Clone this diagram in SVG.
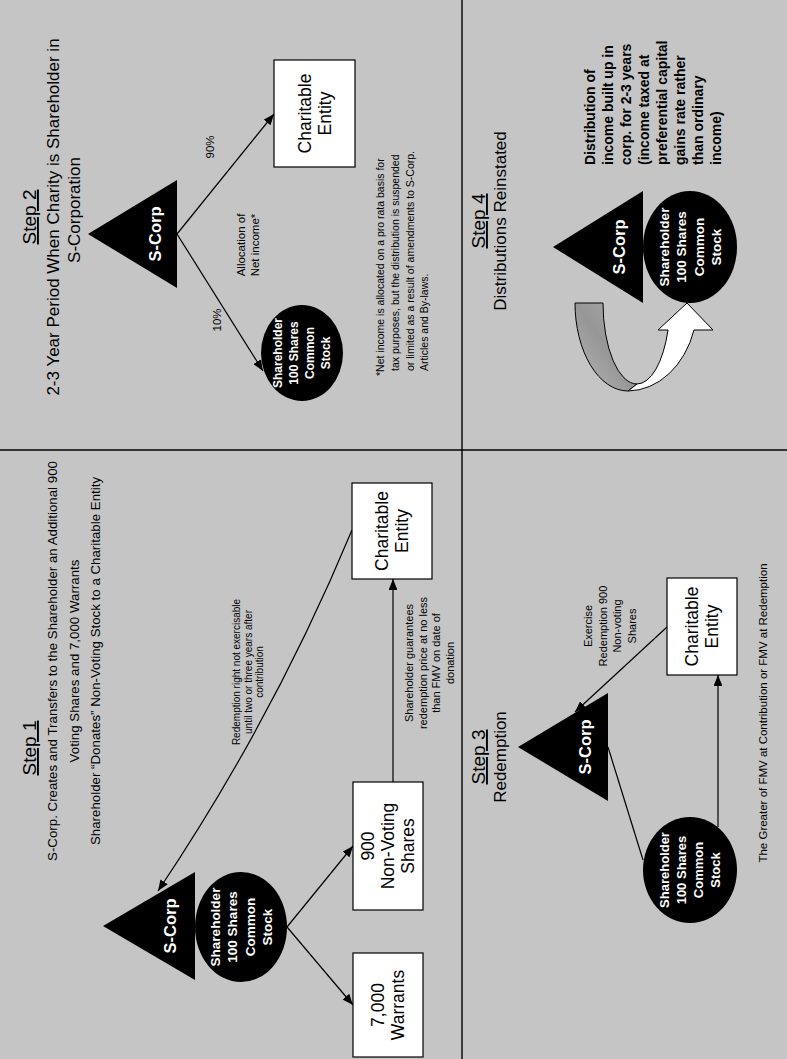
<svg xmlns="http://www.w3.org/2000/svg" width="787" height="1059" viewBox="0 0 787 1059">
<style>
text{font-family:"Liberation Sans",Arial,Helvetica,sans-serif;fill:#000}
.step{font-size:19px;text-anchor:middle;text-decoration:underline}
.sub{font-size:17px;text-anchor:middle}
.t1{font-size:13.3px;text-anchor:middle}
.tri{fill:#000}
.ell{fill:#000}
.nt{font-weight:bold;fill:#fff;text-anchor:middle}
.sc{font-size:16.5px}
.cs{font-size:13.5px}
.box{fill:#fff;stroke:#000;stroke-width:1.2}
.bt{font-size:17.5px;text-anchor:middle}
.lbl{text-anchor:middle}
.con{stroke:#000;stroke-width:1.2;fill:none}
.arr{marker-end:url(#ah)}
.div{stroke:#000;stroke-width:1.4}
</style>
<defs>
<marker id="ah" viewBox="0 0 10 8" refX="10" refY="4" markerWidth="11" markerHeight="8.8" markerUnits="userSpaceOnUse" orient="auto">
<path d="M0,0 L10,4 L0,8 z" fill="#000"/>
</marker>
<linearGradient id="tailg" x1="0" y1="0" x2="1" y2="1">
<stop offset="0" stop-color="#b8b8b8"/>
<stop offset="0.5" stop-color="#969696"/>
<stop offset="1" stop-color="#b0b0b0"/>
</linearGradient>
</defs>
<rect x="0" y="0" width="787" height="1059" fill="#c5c5c5"/>
<g transform="translate(0,1059) rotate(-90)">
<g id="dividers">
<line class="div" x1="0" y1="462" x2="1059" y2="462"/>
<line class="div" x1="609" y1="0" x2="609" y2="787"/>
</g>
<g id="titles">
<text class="step" x="311" y="36">Step 1</text>
<text class="t1" x="398" y="57">S-Corp. Creates and Transfers to the Shareholder an Additional 900</text>
<text class="t1" x="398" y="78.5">Voting Shares and 7,000 Warrants</text>
<text class="t1" x="398" y="100">Shareholder “Donates” Non-Voting Stock to a Charitable Entity</text>
<text class="step" x="842" y="36">Step 2</text>
<text class="sub" x="842" y="59">2-3 Year Period When Charity is Shareholder in</text>
<text class="sub" x="849" y="80">S-Corporation</text>
<text class="step" x="302" y="485">Step 3</text>
<text class="sub" x="302" y="506">Redemption</text>
<text class="step" x="838" y="485">Step 4</text>
<text class="sub" x="838" y="506">Distributions Reinstated</text>
</g>
<g id="connectors">
<line class="con arr" x1="132" y1="287" x2="54" y2="353"/>
<line class="con arr" x1="132" y1="287" x2="213" y2="353"/>
<line class="con arr" x1="277" y1="393" x2="480" y2="393"/>
<path class="con arr" d="M529,352 Q341,274 168,158"/>
<line class="con arr" x1="825" y1="177" x2="688" y2="263"/>
<line class="con arr" x1="825" y1="177" x2="945" y2="274"/>
<line class="con" x1="199" y1="643" x2="312" y2="608"/>
<line class="con arr" x1="432" y1="667" x2="347" y2="575"/>
<line class="con arr" x1="232" y1="718" x2="384" y2="718"/>
</g>
<g id="s1-scorp">
<polygon class="tri" points="133,103 187,195 79,195"/>
<text class="nt sc" x="133" y="176">S-Corp</text>
</g>
<g id="s1-shareholder">
<ellipse class="ell" cx="132" cy="241" rx="55" ry="46"/>
<text class="nt cs" x="132" y="219.5">Shareholder</text>
<text class="nt cs" x="132" y="237">100 Shares</text>
<text class="nt cs" x="132" y="254.5">Common</text>
<text class="nt cs" x="132" y="272">Stock</text>
</g>
<g id="s1-warrants">
<rect class="box" x="2" y="353" width="104" height="70"/>
<text class="bt" x="54" y="384">7,000</text>
<text class="bt" x="54" y="404">Warrants</text>
</g>
<g id="s1-nonvoting">
<rect class="box" x="149" y="353" width="128" height="70"/>
<text class="bt" x="213" y="374">900</text>
<text class="bt" x="213" y="394">Non-Voting</text>
<text class="bt" x="213" y="414">Shares</text>
</g>
<g id="s1-charity">
<rect class="box" x="480" y="352" width="96" height="80"/>
<text class="bt" x="528" y="388">Charitable</text>
<text class="bt" x="528" y="408">Entity</text>
</g>
<g id="s1-labels">
<text class="lbl" font-size="10" x="387" y="240">Redemption right not exercisable</text>
<text class="lbl" font-size="10" x="387" y="251.5">until two or three years after</text>
<text class="lbl" font-size="10" x="387" y="263">contribution</text>
<text class="lbl" font-size="11" x="396" y="413">Shareholder guarantees</text>
<text class="lbl" font-size="11" x="396" y="426.5">redemption price at no less</text>
<text class="lbl" font-size="11" x="396" y="440">than FMV on date of</text>
<text class="lbl" font-size="11" x="396" y="453.5">donation</text>
</g>
<g id="s2-scorp">
<polygon class="tri" points="825,88 879,177 771,177"/>
<text class="nt sc" x="825" y="161">S-Corp</text>
</g>
<g id="s2-shareholder">
<ellipse class="ell" cx="706" cy="302" rx="48" ry="41"/>
<text class="nt" font-size="12" x="706" y="282">Shareholder</text>
<text class="nt" font-size="12" x="706" y="298">100 Shares</text>
<text class="nt" font-size="12" x="706" y="314">Common</text>
<text class="nt" font-size="12" x="706" y="330">Stock</text>
</g>
<g id="s2-charity">
<rect class="box" x="892" y="274" width="107" height="81"/>
<text class="bt" font-size="18" x="945.5" y="310.5">Charitable</text>
<text class="bt" font-size="18" x="945.5" y="330.5">Entity</text>
</g>
<g id="s2-labels">
<text class="lbl" font-size="11.5" x="739" y="221">10%</text>
<text class="lbl" font-size="11.5" x="912" y="214">90%</text>
<text class="lbl" font-size="11.5" x="814" y="245">Allocation of</text>
<text class="lbl" font-size="11.5" x="814" y="259">Net income*</text>
<text font-size="10.5" x="683" y="384">*Net income is allocated on a pro rata basis for</text>
<text font-size="10.5" x="688" y="399">tax purposes, but the distribution is suspended</text>
<text font-size="10.5" x="688" y="414">or limited as a result of amendments to S-Corp.</text>
<text font-size="10.5" x="688" y="428">Articles and By-laws.</text>
</g>
<g id="s3-scorp">
<polygon class="tri" points="312,518 366,608 258,608"/>
<text class="nt sc" x="312" y="591">S-Corp</text>
</g>
<g id="s3-shareholder">
<ellipse class="ell" cx="189" cy="690" rx="53" ry="47"/>
<text class="nt" font-size="13" x="189" y="669">Shareholder</text>
<text class="nt" font-size="13" x="189" y="686">100 Shares</text>
<text class="nt" font-size="13" x="189" y="703">Common</text>
<text class="nt" font-size="13" x="189" y="720">Stock</text>
</g>
<g id="s3-charity">
<rect class="box" x="384" y="667" width="97" height="70"/>
<text class="bt" x="432.5" y="698">Charitable</text>
<text class="bt" x="432.5" y="718">Entity</text>
</g>
<g id="s3-labels">
<text class="lbl" font-size="11" x="433" y="592">Exercise</text>
<text class="lbl" font-size="11" x="433" y="606.5">Redemption 900</text>
<text class="lbl" font-size="11" x="433" y="621">Non-voting</text>
<text class="lbl" font-size="11" x="433" y="635.5">Shares</text>
<text class="lbl" font-size="11.5" x="346" y="767">The Greater of FMV at Contribution or FMV at Redemption</text>
</g>
<g id="s4-uturn">
<path d="M756,575 A88,53 0 0 0 668,628 L675,637 A81,34 0 0 1 756,603 Z" fill="url(#tailg)" stroke="#000" stroke-width="1"/>
<path d="M668,628 A88,70 0 0 0 729,694 L729,713 L756,687 L729,658 L729,668 A81,33 0 0 1 675,637 Z" fill="#fff" stroke="#000" stroke-width="1"/>
</g>
<g id="s4-scorp">
<polygon class="tri" points="812,553 868,643 756,643"/>
<text class="nt sc" x="812" y="625">S-Corp</text>
</g>
<g id="s4-shareholder">
<ellipse class="ell" cx="812" cy="690" rx="56" ry="47"/>
<text class="nt cs" x="812" y="668.5">Shareholder</text>
<text class="nt cs" x="812" y="686">100 Shares</text>
<text class="nt cs" x="812" y="703.5">Common</text>
<text class="nt cs" x="812" y="721">Stock</text>
</g>
<g id="s4-text">
<text font-weight="bold" font-size="14" x="894" y="595">Distribution of</text>
<text font-weight="bold" font-size="14" x="894" y="613">income built up in</text>
<text font-weight="bold" font-size="14" x="894" y="631">corp. for 2-3 years</text>
<text font-weight="bold" font-size="14" x="894" y="649">(income taxed at</text>
<text font-weight="bold" font-size="14" x="894" y="667">preferential capital</text>
<text font-weight="bold" font-size="14" x="894" y="685">gains rate rather</text>
<text font-weight="bold" font-size="14" x="894" y="703">than ordinary</text>
<text font-weight="bold" font-size="14" x="894" y="721">income)</text>
</g>
</g>
</svg>
